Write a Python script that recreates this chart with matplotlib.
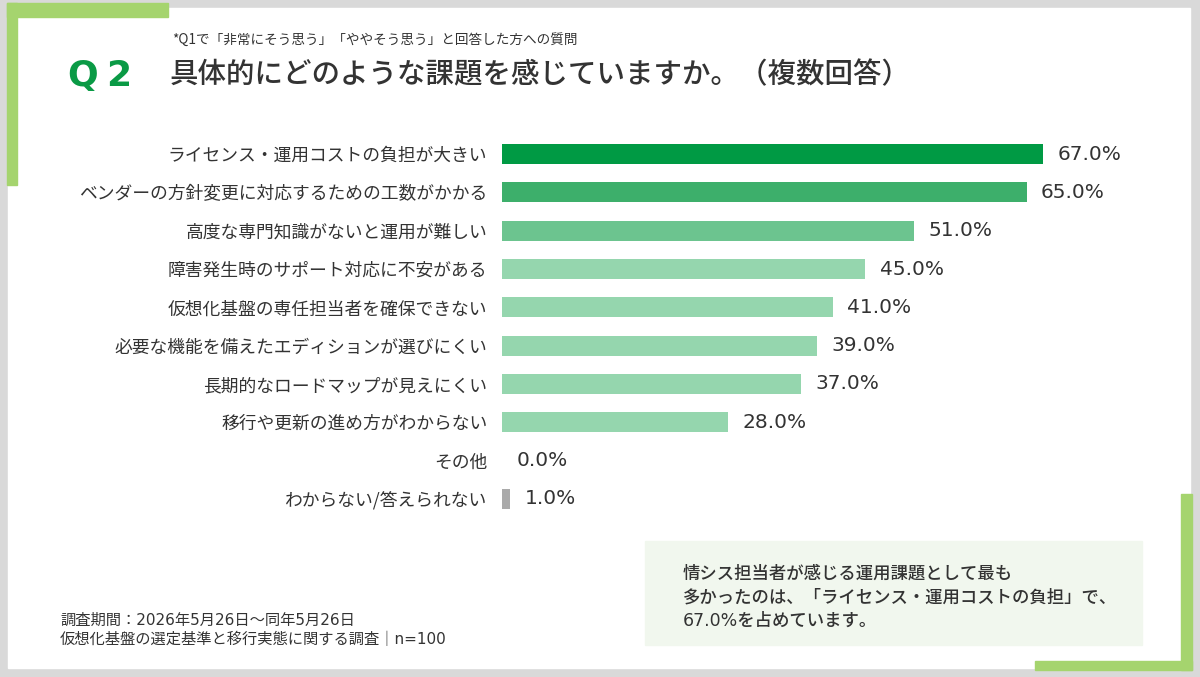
import matplotlib.pyplot as plt
from matplotlib.patches import Rectangle

plt.rcParams['font.family'] = ['Noto Sans CJK JP', 'DejaVu Sans']
latin_first = ['DejaVu Sans', 'Noto Sans CJK JP']

categories = ["ライセンス・運用コストの負担が大きい",
              "ベンダーの方針変更に対応するための工数がかかる",
              "高度な専門知識がないと運用が難しい",
              "障害発生時のサポート対応に不安がある",
              "仮想化基盤の専任担当者を確保できない",
              "必要な機能を備えたエディションが選びにくい",
              "長期的なロードマップが見えにくい",
              "移行や更新の進め方がわからない",
              "その他",
              "わからない/答えられない"]
values = [67.0, 65.0, 51.0, 45.0, 41.0, 39.0, 37.0, 28.0, 0.0, 1.0]
bar_colors = ["#009a44", "#3daf6b", "#6cc48f", "#95d6ae", "#95d6ae",
              "#95d6ae", "#95d6ae", "#95d6ae", "#95d6ae", "#aaaaaa"]

W, H = 1200, 677
fig = plt.figure(figsize=(12, 6.77), dpi=100)
fig.patch.set_facecolor("#d9d9d9")

# background layer in pixel coordinates
bg = fig.add_axes([0, 0, 1, 1])
bg.set_xlim(0, W)
bg.set_ylim(H, 0)
bg.axis("off")
bg.add_patch(Rectangle((8, 8), 1182, 660, color="white", zorder=1))
# green corners
bg.add_patch(Rectangle((7, 3), 161, 14, color="#a5d46e", zorder=2))
bg.add_patch(Rectangle((7, 3), 10, 182, color="#a5d46e", zorder=2))
bg.add_patch(Rectangle((1181, 494), 11, 176, color="#a5d46e", zorder=2))
bg.add_patch(Rectangle((1035, 661), 157, 9, color="#a5d46e", zorder=2))
# note box
bg.add_patch(Rectangle((645, 541), 497, 104, color="#f1f7ee", zorder=2))

txt = "#333333"
bg.text(67, 76, "Q", color="#0a9a45", fontsize=26, family="DejaVu Sans",
        fontweight="bold", va="center", ha="left", zorder=3)
bg.text(106, 76, "2", color="#0a9a45", fontsize=26, family="DejaVu Sans",
        fontweight="bold", va="center", ha="left", zorder=3)
bg.text(172, 40, "*Q1で「非常にそう思う」「ややそう思う」と回答した方への質問",
        color=txt, fontsize=9.8, va="center", ha="left", zorder=3)
bg.text(170, 75, "具体的にどのような課題を感じていますか。（複数回答）",
        color=txt, fontsize=20.5, fontweight="medium", va="center", ha="left", zorder=3)

note = ("情シス担当者が感じる運用課題として最も\n"
        "多かったのは、「ライセンス・運用コストの負担」で、\n"
        "67.0%を占めています。")
bg.text(683, 597, note, color=txt, fontsize=12.5, fontweight="medium",
        family=latin_first, va="center", ha="left", linespacing=1.4, zorder=3)

bg.text(60, 620, "調査期間：2026年5月26日～同年5月26日", color=txt, fontsize=11,
        family=latin_first, va="center", ha="left", zorder=3)
bg.text(60, 639, "仮想化基盤の選定基準と移行実態に関する調査｜n=100", color=txt,
        fontsize=11, family=latin_first, va="center", ha="left", zorder=3)

# bar chart
x0, x1, y0, y1 = 502, 1150, 135, 518
ax = fig.add_axes([x0 / W, 1 - y1 / H, (x1 - x0) / W, (y1 - y0) / H])
ax.patch.set_alpha(0)
ypos = list(range(len(categories)))
ax.barh(ypos, values, height=0.52, color=bar_colors, zorder=3)
ax.set_xlim(0, (x1 - x0) / 8.07)
ax.set_ylim(len(categories) - 0.5, -0.5)
for s in ax.spines.values():
    s.set_visible(False)
ax.set_xticks([])
ax.set_yticks(ypos)
ax.set_yticklabels(categories, fontsize=12.8, color=txt)
ax.tick_params(axis="y", length=0, pad=10.5)
for y, v in zip(ypos, values):
    ax.text(v + 1.8, y, f"{v:.1f}%", va="center", ha="left", family="DejaVu Sans",
            fontsize=14.5, color=txt)

fig.savefig("out.png", dpi=100, facecolor=fig.get_facecolor())
